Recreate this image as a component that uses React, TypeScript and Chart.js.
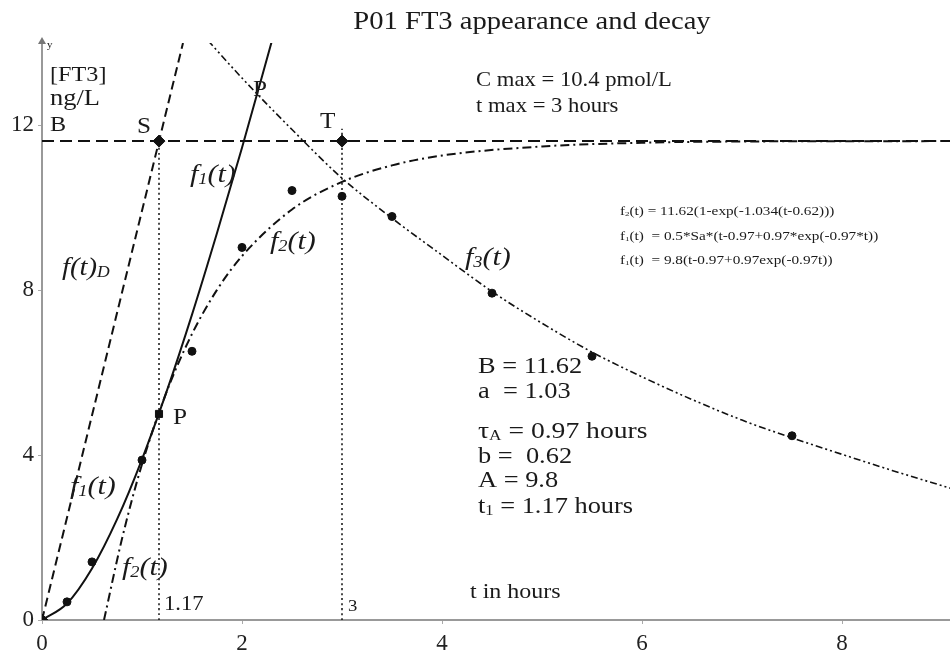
import React, { useEffect, useRef } from "react";
import { Chart, registerables } from "chart.js";
Chart.register(...registerables);

// ---- data ----
const xTicks = [0, 2, 4, 6, 8];
const yTicks = [0, 4, 8, 12];
const X_MAX = 9.08;
const Y_MAX = 14;

// f1(t): solid rising curve
const f1T = [0, 0.25, 0.5, 0.75, 1.0, 1.25, 1.5, 1.75, 2.0, 2.3];
const f1Y = [0, 0.4, 1.25, 2.44, 3.9, 5.57, 7.41, 9.39, 11.46, 14.06];

// f2(t): dash-dot saturation curve
const f2T = [0.62, 0.8, 1.0, 1.25, 1.5, 1.75, 2.0, 2.5, 3.0, 3.5, 4.0, 5.0, 6.0, 7.0, 9.08];
const f2Y = [0, 1.97, 3.78, 5.56, 6.94, 8.01, 8.83, 9.96, 10.63, 11.03, 11.27, 11.49, 11.58, 11.61, 11.62];

// f3(t): dash-dot-dot decay curve
const f3T = [1.66, 2, 2.5, 3, 3.5, 4, 4.5, 5, 5.5, 6, 6.5, 7, 7.5, 8, 8.5, 9.08];
const f3Y = [14.06, 13.15, 11.9, 10.72, 9.75, 8.85, 7.97, 7.2, 6.5, 5.9, 5.35, 4.85, 4.42, 4.02, 3.63, 3.2];

// f(t)D: dashed tangent line
const fDT = [0, 1.41];
const fDY = [0, 14];

// constants
const B_LEVEL = 11.62;
const T1 = 1.17;
const TMAX = 3;
const P_VALUE = 5.0;

// measured points
const obsT = [0.25, 0.5, 1.0, 1.5, 2.0, 2.5, 3.0, 3.5, 4.5, 5.5, 7.5];
const obsY = [0.44, 1.41, 3.88, 6.52, 9.04, 10.42, 10.28, 9.79, 7.93, 6.4, 4.47];

const zip = (xs: number[], ys: number[]) => xs.map((x, i) => ({ x, y: ys[i] }));

const SERIF = "'Liberation Serif', 'Times New Roman', serif";

type Part = { t: string; sub?: boolean };
type Ann = { parts: Part[]; x: number; y: number; size: number; sx?: number; italic?: boolean; align?: "left" | "center" };

const P = (t: string, sub = false): Part => ({ t, sub });

const annotations: Ann[] = [
  { parts: [P("P01 FT3 appearance and decay")], x: 532, y: 22, size: 26, sx: 1.1, align: "center" },
  { parts: [P("C max = 10.4 pmol/L")], x: 476, y: 80, size: 22, sx: 1.03 },
  { parts: [P("t max = 3 hours")], x: 476, y: 106, size: 22, sx: 1.03 },
  { parts: [P("f"), P("2", true), P("(t) = 11.62(1-exp(-1.034(t-0.62)))")], x: 620, y: 212, size: 12, sx: 1.27 },
  { parts: [P("f"), P("1", true), P("(t)  = 0.5*Sa*(t-0.97+0.97*exp(-0.97*t))")], x: 620, y: 237, size: 12, sx: 1.27 },
  { parts: [P("f"), P("1", true), P("(t)  = 9.8(t-0.97+0.97exp(-0.97t))")], x: 620, y: 261, size: 12, sx: 1.27 },
  { parts: [P("B = 11.62")], x: 478, y: 367, size: 24, sx: 1.1 },
  { parts: [P("a  = 1.03")], x: 478, y: 392, size: 24, sx: 1.1 },
  { parts: [P("τ"), P("A", true), P(" = 0.97 hours")], x: 478, y: 432, size: 24, sx: 1.15 },
  { parts: [P("b =  0.62")], x: 478, y: 457, size: 24, sx: 1.1 },
  { parts: [P("A = 9.8")], x: 478, y: 481, size: 24, sx: 1.1 },
  { parts: [P("t"), P("1", true), P(" = 1.17 hours")], x: 478, y: 507, size: 24, sx: 1.1 },
  { parts: [P("t in hours")], x: 470, y: 592, size: 22, sx: 1.09 },
  { parts: [P("1.17")], x: 164, y: 605, size: 20, sx: 1.13 },
  { parts: [P("3")], x: 348, y: 607, size: 17, sx: 1.1 },
  { parts: [P("B")], x: 50, y: 125, size: 22, sx: 1.1 },
  { parts: [P("[FT3]")], x: 50, y: 75, size: 22, sx: 1.1 },
  { parts: [P("ng/L")], x: 50, y: 99, size: 23, sx: 1.15 },
  { parts: [P("y")], x: 47, y: 45, size: 11 },
  { parts: [P("S")], x: 137, y: 127, size: 24, sx: 1.05 },
  { parts: [P("T")], x: 320, y: 122, size: 24, sx: 1.05 },
  { parts: [P("P")], x: 173, y: 418, size: 24, sx: 1.05 },
  { parts: [P("P")], x: 253, y: 90, size: 24, sx: 1.05 },
  { parts: [P("f"), P("1", true), P("(t)")], x: 190, y: 175, size: 26, sx: 1.15, italic: true },
  { parts: [P("f"), P("2", true), P("(t)")], x: 270, y: 242, size: 26, sx: 1.15, italic: true },
  { parts: [P("f"), P("3", true), P("(t)")], x: 465, y: 258, size: 26, sx: 1.15, italic: true },
  { parts: [P("f(t)"), P("D", true)], x: 62, y: 268, size: 26, sx: 1.1, italic: true },
  { parts: [P("f"), P("1", true), P("(t)")], x: 70, y: 487, size: 26, sx: 1.15, italic: true },
  { parts: [P("f"), P("2", true), P("(t)")], x: 122, y: 568, size: 26, sx: 1.15, italic: true },
];

// stretch the plot area to the right edge of the canvas
const fullWidthPlugin = {
  id: "fullWidth",
  afterLayout(chart: any) {
    const right = chart.width;
    const x = chart.scales.x;
    x.right = right;
    x.width = right - x.left;
    x.configure();
    chart.chartArea.right = right;
    chart.chartArea.width = right - chart.chartArea.left;
  },
};

const textPlugin = {
  id: "annText",
  afterDraw(chart: any) {
    const ctx: CanvasRenderingContext2D = chart.ctx;
    ctx.save();
    ctx.textBaseline = "middle";
    ctx.textAlign = "left";
    for (const a of annotations) {
      const sx = a.sx || 1;
      const style = a.italic ? "italic " : "";
      const fontMain = `${style}${a.size}px ${SERIF}`;
      const fontSub = `${style}${Math.round(a.size * 0.62)}px ${SERIF}`;
      let total = 0;
      for (const p of a.parts) {
        ctx.font = p.sub ? fontSub : fontMain;
        total += ctx.measureText(p.t).width;
      }
      const x0 = a.align === "center" ? a.x - (total * sx) / 2 : a.x;
      ctx.save();
      ctx.translate(x0, a.y);
      ctx.scale(sx, 1);
      ctx.fillStyle = "#1a1a1a";
      let x = 0;
      for (const p of a.parts) {
        ctx.font = p.sub ? fontSub : fontMain;
        ctx.fillText(p.t, x, p.sub ? a.size * 0.18 : 0);
        x += ctx.measureText(p.t).width;
      }
      ctx.restore();
    }
    // y axis arrow head
    const xs = chart.scales.x;
    const ys = chart.scales.y;
    const ax = xs.getPixelForValue(0);
    const top = ys.top - 2;
    ctx.fillStyle = "#777";
    ctx.beginPath();
    ctx.moveTo(ax, top - 4);
    ctx.lineTo(ax - 4, top + 3);
    ctx.lineTo(ax + 4, top + 3);
    ctx.closePath();
    ctx.fill();
    ctx.restore();
  },
};

export default function App() {
  const ref = useRef<HTMLCanvasElement | null>(null);
  useEffect(() => {
    if (!ref.current) return;
    const line = (data: any[], dash: number[], width: number) => ({
      type: "scatter" as const,
      data,
      showLine: true,
      borderColor: "#111",
      backgroundColor: "#111",
      borderWidth: width,
      borderDash: dash,
      pointRadius: 0,
      cubicInterpolationMode: "monotone" as const,
    });
    const chart = new Chart(ref.current, {
      type: "scatter",
      data: {
        datasets: [
          line(zip(f1T, f1Y), [], 2),
          line(zip(f2T, f2Y), [9, 4, 2, 4], 2),
          line(zip(f3T, f3Y), [7, 3, 2, 3, 2, 3], 1.6),
          line(zip(fDT, fDY), [9, 5], 2),
          line([{ x: 0, y: B_LEVEL }, { x: X_MAX, y: B_LEVEL }], [12, 6], 2),
          line([{ x: T1, y: 0 }, { x: T1, y: B_LEVEL }], [2, 3], 1.5),
          line([{ x: TMAX, y: 0 }, { x: TMAX, y: B_LEVEL + 0.3 }], [2, 3], 1.5),
          {
            type: "scatter",
            data: zip(obsT, obsY),
            pointRadius: 4,
            pointBackgroundColor: "#111",
            pointBorderColor: "#111",
            showLine: false,
          },
          {
            type: "scatter",
            data: [{ x: 0, y: 0 }, { x: T1, y: B_LEVEL }, { x: TMAX, y: B_LEVEL }],
            pointStyle: "rectRot",
            pointRadius: 6,
            pointBackgroundColor: "#111",
            pointBorderColor: "#111",
            showLine: false,
          },
          {
            type: "scatter",
            data: [{ x: T1, y: P_VALUE }],
            pointStyle: "rect",
            pointRadius: 5,
            pointBackgroundColor: "#111",
            pointBorderColor: "#111",
            showLine: false,
          },
        ] as any,
      },
      options: {
        animation: false,
        responsive: false,
        layout: { padding: { top: 43, right: 0, left: 0, bottom: 0 } },
        plugins: { legend: { display: false }, tooltip: { enabled: false }, title: { display: false } },
        scales: {
          x: {
            type: "linear",
            min: 0,
            max: X_MAX,
            afterBuildTicks: (s: any) => {
              s.ticks = xTicks.map((v) => ({ value: v }));
            },
            afterFit: (s: any) => {
              s.height = 36;
            },
            ticks: { font: { family: SERIF, size: 23 }, color: "#222", padding: 6, maxRotation: 0 },
            grid: { drawOnChartArea: false, drawTicks: true, tickLength: 4, color: "#aaa" },
            border: { color: "#999", width: 2 },
          },
          y: {
            type: "linear",
            min: 0,
            max: Y_MAX,
            afterBuildTicks: (s: any) => {
              s.ticks = yTicks.map((v) => ({ value: v }));
            },
            afterFit: (s: any) => {
              s.width = 42;
            },
            ticks: { font: { family: SERIF, size: 23 }, color: "#222", padding: 4 },
            grid: { drawOnChartArea: false, drawTicks: true, tickLength: 4, color: "#aaa" },
            border: { color: "#999", width: 2 },
          },
        },
      } as any,
      plugins: [fullWidthPlugin, textPlugin],
    });
    return () => chart.destroy();
  }, []);
  return (
    <div style={{ position: "absolute", left: 0, top: 0, width: 950, height: 656, background: "#fff" }}>
      <canvas ref={ref} width={950} height={656} style={{ display: "block" }} />
    </div>
  );
}
